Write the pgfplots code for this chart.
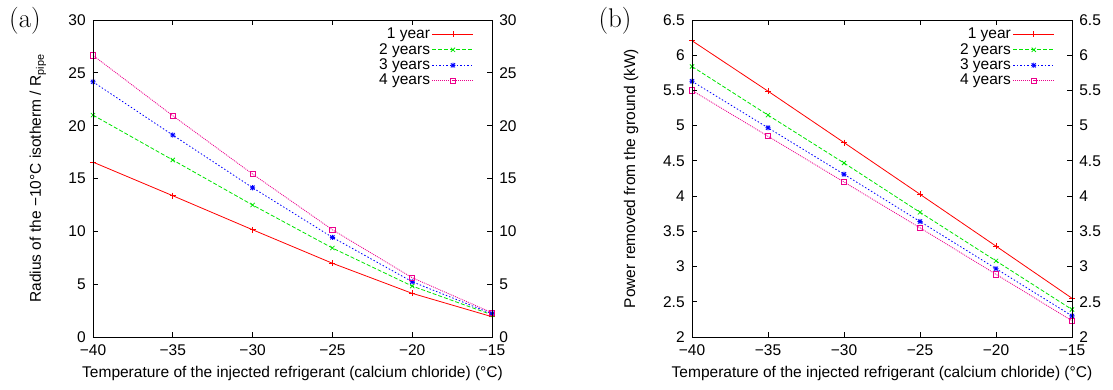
\documentclass[border=0pt]{standalone}
\usepackage{fontspec}
\setsansfont{Liberation Sans}
\renewcommand{\familydefault}{\sfdefault}
\usepackage{pgfplots}
\pgfplotsset{compat=1.18}

\pgfdeclareplotmark{plusx}{%
  \pgfpathmoveto{\pgfqpoint{-\pgfplotmarksize}{0pt}}\pgfpathlineto{\pgfqpoint{\pgfplotmarksize}{0pt}}%
  \pgfpathmoveto{\pgfqpoint{0pt}{-\pgfplotmarksize}}\pgfpathlineto{\pgfqpoint{0pt}{\pgfplotmarksize}}%
  \pgfpathmoveto{\pgfqpoint{-.8\pgfplotmarksize}{-.8\pgfplotmarksize}}\pgfpathlineto{\pgfqpoint{.8\pgfplotmarksize}{.8\pgfplotmarksize}}%
  \pgfpathmoveto{\pgfqpoint{-.8\pgfplotmarksize}{.8\pgfplotmarksize}}\pgfpathlineto{\pgfqpoint{.8\pgfplotmarksize}{-.8\pgfplotmarksize}}%
  \pgfusepathqstroke}

\definecolor{gpred}{rgb}{1,0,0}
\definecolor{gpgreen}{rgb}{0,0.9,0}

\pgfplotsset{
  base/.style={
    scale only axis, height=317pt,
    xmin=-40, xmax=-15,
    xtick={-40,-35,-30,-25,-20,-15},
    xticklabels={−40,−35,−30,−25,−20,−15},
    tick align=inside, major tick length=5pt,
    tick style={black, line width=0.8pt},
    axis line style={line width=0.9pt},
    /pgf/number format/assume math mode=true,
    yticklabel style={xshift=-2pt},
    xticklabel style={yshift=-2pt},
  },
  main/.style={
    base,
    xlabel={Temperature of the injected refrigerant (calcium chloride) (°C)},
    legend style={draw=none, fill=none, at={(0.955,1.030)}, anchor=north east,
      inner sep=0pt, row sep=-1.7pt},
    legend cell align=right, legend plot pos=right,
    legend image code/.code={\draw[mark repeat=2,mark phase=2] plot coordinates {(0pt,0pt) (20.5pt,0pt) (41pt,0pt)};},
  },
  over/.style={
    base, hide x axis, yticklabel pos=right, yticklabel style={xshift=4pt},
  },
  s1/.style={color=gpred, line width=0.8pt, mark=+, mark size=3pt, mark options={solid}},
  s2/.style={color=gpgreen, line width=0.8pt, dash pattern=on 4pt off 2pt, mark=x, mark size=3pt, mark options={solid}},
  s3/.style={color=blue, line width=0.8pt, dash pattern=on 1.5pt off 2pt, mark=plusx, mark size=2.6pt, mark options={solid}},
  s4/.style={color=magenta, line width=0.8pt, dash pattern=on 1pt off 1pt, mark=square, mark size=2.6pt, mark options={solid}},
}

\begin{document}
\fontsize{15.5}{16}\selectfont
\begin{tikzpicture}
% panel (a)
\begin{axis}[main, width=399pt, ymin=0, ymax=30, ytick={0,5,...,30},
  ylabel={Radius of the −10°C isotherm / R\textsubscript{pipe}},
  ylabel style={at={(axis description cs:-0.138,0.5)}, anchor=center}]
\addlegendimage{empty legend}
\addlegendentry{\phantom{1 year}}
\addplot[s1] coordinates {(-40,16.55) (-35,13.37) (-30,10.15) (-25,6.98) (-20,4.13) (-15,1.92)};
\addlegendentry{1 year}
\addplot[s2] coordinates {(-40,21.0) (-35,16.75) (-30,12.49) (-25,8.42) (-20,4.82) (-15,2.1)};
\addlegendentry{2 years}
\addplot[s3] coordinates {(-40,24.15) (-35,19.11) (-30,14.13) (-25,9.43) (-20,5.23) (-15,2.2)};
\addlegendentry{3 years}
\addplot[s4] coordinates {(-40,26.65) (-35,20.94) (-30,15.42) (-25,10.15) (-20,5.61) (-15,2.3)};
\addlegendentry{4 years}
\end{axis}
\begin{axis}[over, width=399pt, ymin=0, ymax=30, ytick={0,5,...,30}]
\end{axis}
\node[font=\rmfamily\fontsize{27}{27}\selectfont] at (-68pt,316pt) {(a)};
% panel (b)
\begin{axis}[main, at={(599pt,0pt)}, width=380pt, ymin=2, ymax=6.5, ytick={2,2.5,...,6.5},
  ylabel={Power removed from the ground (kW)},
  ylabel style={at={(axis description cs:-0.16,0.5)}, anchor=center}]
\addlegendimage{empty legend}
\addlegendentry{\phantom{1 year}}
\addplot[s1] coordinates {(-40,6.206) (-35,5.49) (-30,4.76) (-25,4.026) (-20,3.29) (-15,2.55)};
\addlegendentry{1 year}
\addplot[s2] coordinates {(-40,5.84) (-35,5.15) (-30,4.47) (-25,3.77) (-20,3.08) (-15,2.39)};
\addlegendentry{2 years}
\addplot[s3] coordinates {(-40,5.63) (-35,4.97) (-30,4.31) (-25,3.64) (-20,2.97) (-15,2.30)};
\addlegendentry{3 years}
\addplot[s4] coordinates {(-40,5.50) (-35,4.85) (-30,4.20) (-25,3.55) (-20,2.89) (-15,2.23)};
\addlegendentry{4 years}
\end{axis}
\begin{axis}[over, at={(599pt,0pt)}, width=380pt, ymin=2, ymax=6.5, ytick={2,2.5,...,6.5}]
\end{axis}
\node[font=\rmfamily\fontsize{27}{27}\selectfont] at (522pt,316pt) {(b)};
\pgfresetboundingbox
\path[use as bounding box] (-93pt,-52pt) rectangle (1020pt,337pt);
\end{tikzpicture}
\end{document}
